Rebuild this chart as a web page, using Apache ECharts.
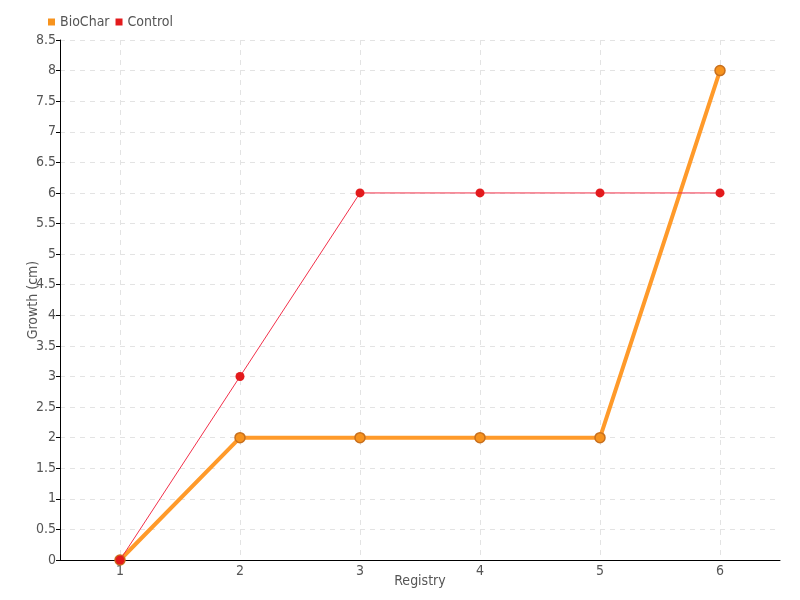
<!DOCTYPE html>
<html><head><meta charset="utf-8">
<script src="https://cdn.jsdelivr.net/npm/echarts@6/dist/echarts.min.js"></script>
<style>html,body{margin:0;padding:0;background:#fff}#c{width:800px;height:600px}</style>
</head><body><div id="c"></div>
<script>
const categories = ['1','2','3','4','5','6'];
const bioChar = [0,2,2,2,2,8];
const control = [0,3,6,6,6,6];
const FONT = '"DejaVu Sans Condensed", "Liberation Sans Narrow", sans-serif';
const chart = echarts.init(document.getElementById('c'));
chart.setOption({
  animation:false,
  textStyle:{fontFamily:FONT},
  legend:{left:48, top:15, itemWidth:7, itemHeight:7, itemGap:6, padding:0,
    textStyle:{color:'#555', fontSize:14, fontFamily:FONT},
    data:[{name:'BioChar', icon:'rect', itemStyle:{color:'#f7931e', borderWidth:0}},
          {name:'Control', icon:'rect', itemStyle:{color:'#e31a1c', borderWidth:0}}]},
  grid:{left:60, right:20, top:40, bottom:40},
  xAxis:{type:'category', data:categories, boundaryGap:true,
    name:'Registry', nameLocation:'middle', nameGap:14, nameMoveOverlap:false,
    nameTextStyle:{color:'#555', fontSize:14, fontFamily:FONT},
    axisLine:{lineStyle:{color:'#000'}},
    axisTick:{alignWithLabel:true, length:4, lineStyle:{color:'#000'}},
    axisLabel:{color:'#555', fontSize:14, margin:4, fontFamily:FONT},
    splitLine:{show:true, alignWithLabel:true, lineStyle:{color:'#e3e3e3', type:[5,5]}}},
  yAxis:{type:'value', min:0, max:8.5, interval:0.5,
    name:'Growth (cm)', nameLocation:'middle', nameGap:20, nameMoveOverlap:false,
    nameTextStyle:{color:'#555', fontSize:14, fontFamily:FONT},
    axisLine:{show:true, lineStyle:{color:'#000'}},
    axisTick:{show:true, length:4, lineStyle:{color:'#000'}},
    axisLabel:{color:'#555', fontSize:14, margin:4, fontFamily:FONT},
    splitLine:{show:true, lineStyle:{color:'#e3e3e3', type:[5,5]}}},
  series:[
    {name:'BioChar', type:'line', data:bioChar, symbol:'circle', symbolSize:10,
      lineStyle:{color:'#ff9a2a', width:4},
      itemStyle:{color:'#f7931e', borderColor:'#c8701e', borderWidth:1.5}, z:2},
    {name:'Control', type:'line', data:control, symbol:'circle', symbolSize:9,
      lineStyle:{color:'#f2304a', width:1},
      itemStyle:{color:'#e31a1c', borderColor:'#e31a1c', borderWidth:0}, z:3}
  ]
});
</script></body></html>
